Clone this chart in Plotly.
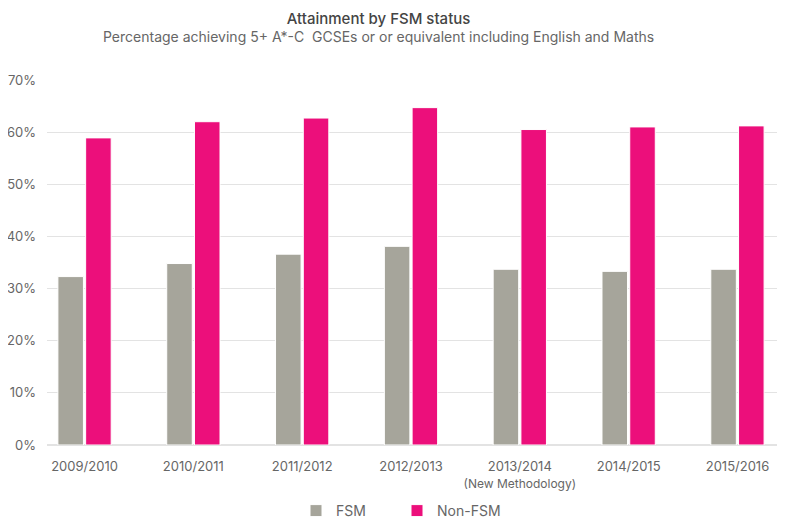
import plotly.graph_objects as go

categories = ["2009/2010", "2010/2011", "2011/2012", "2012/2013",
              "2013/2014<br><span style='font-size:12px'>(New Methodology)</span>",
              "2014/2015", "2015/2016"]
fsm = [32.3, 34.8, 36.6, 38.1, 33.7, 33.3, 33.7]
non_fsm = [58.9, 62.0, 62.7, 64.7, 60.5, 61.0, 61.2]
y_ticks = [0, 10, 20, 30, 40, 50, 60, 70]
title = "Attainment by FSM status"
subtitle = "Percentage achieving 5+ A*-C  GCSEs or or equivalent including English and Maths"

x = list(range(len(categories)))

# page body has an 8px default margin, so the figure is sized/offset for it
W, H = 777, 513
L, R, T, B = 39, 0, 72, 76
plot_w = W - L - R
plot_h = H - T - B

fig = go.Figure()
fig.add_trace(go.Bar(x=x, y=fsm, name="FSM", legend="legend",
                     marker=dict(color="#a6a59b", line=dict(color="#ffffff", width=1))))
fig.add_trace(go.Bar(x=x, y=non_fsm, name="Non-FSM", legend="legend2",
                     marker=dict(color="#ec0f7b", line=dict(color="#ffffff", width=1))))

font_family = "Inter, Roboto, sans-serif"
leg_common = dict(orientation="h", xref="container", yref="container",
                  xanchor="left", y=(H - 503) / H, yanchor="middle",
                  font=dict(size=14, color="#666666"), itemwidth=30)
fig.update_layout(
    width=W, height=H,
    margin=dict(l=L, r=R, t=T, b=B),
    paper_bgcolor="white", plot_bgcolor="white",
    barmode="group", bargap=0.49, bargroupgap=0.08,
    font=dict(family=font_family, color="#666666", size=12),
    showlegend=True,
    legend=dict(x=288 / W, **leg_common),
    legend2=dict(x=389 / W, **leg_common),
)

fig.add_annotation(
    text=(f"<span style='font-size:15px;font-weight:500;fill:#444444'>{title}</span>"
          f"<br>{subtitle}"),
    showarrow=False, xref="paper", yref="paper",
    x=(370 - L) / plot_w, y=(H - B) / plot_h,
    xanchor="center", yanchor="top", align="center", borderpad=0,
    font=dict(size=14, color="#666666", family=font_family))

fig.update_xaxes(range=[-0.345, 6.437], tickvals=x, ticktext=categories,
                 showgrid=False, zeroline=False, showline=False, ticks="",
                 ticklabelstandoff=12,
                 tickfont=dict(size=13, color="#666666"))
fig.update_yaxes(range=[0, 70], tickvals=y_ticks, ticktext=[f"{v}%" for v in y_ticks],
                 showgrid=True, gridcolor="#e3e3e3", gridwidth=1, zeroline=True,
                 zerolinecolor="#e3e3e3", ticks="", ticklabelstandoff=10,
                 tickfont=dict(size=13, color="#666666"))

fig.write_html("out.html")
